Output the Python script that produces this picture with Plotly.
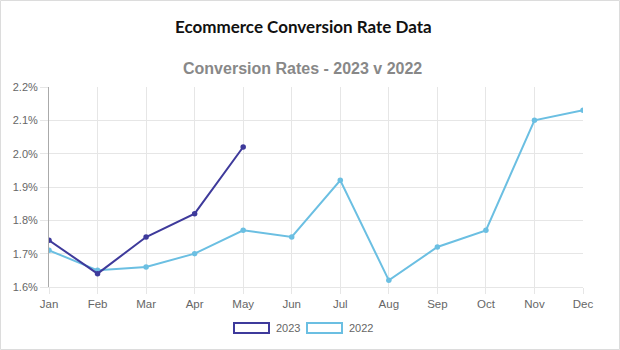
import plotly.graph_objects as go

months = ["Jan", "Feb", "Mar", "Apr", "May", "Jun", "Jul", "Aug", "Sep", "Oct", "Nov", "Dec"]
rates_2023 = [1.74, 1.64, 1.75, 1.82, 2.02]
rates_2022 = [1.71, 1.65, 1.66, 1.70, 1.77, 1.75, 1.92, 1.62, 1.72, 1.77, 2.10, 2.13]
y_ticks = [1.6, 1.7, 1.8, 1.9, 2.0, 2.1, 2.2]
y_tick_labels = ["1.6%", "1.7%", "1.8%", "1.9%", "2.0%", "2.1%", "2.2%"]

C23 = "#3e3a9b"
C22 = "#6bbfe2"

W, H = 620, 350
L, R, T, B = 49, 37, 87, 63
pw, ph = W - L - R, H - T - B

def px(x):
    return (x - L) / pw

def py(y):
    return (H - B - y) / ph

fig = go.Figure()
fig.add_trace(go.Scatter(x=months, y=rates_2022, mode="lines+markers", name="2022",
                         line=dict(color=C22, width=2), marker=dict(size=5.5, color=C22)))
fig.add_trace(go.Scatter(x=months[:len(rates_2023)], y=rates_2023, mode="lines+markers", name="2023",
                         line=dict(color=C23, width=2), marker=dict(size=5.5, color=C23)))

fig.update_layout(
    width=W, height=H,
    margin=dict(l=L, r=R, t=T, b=B),
    paper_bgcolor="white", plot_bgcolor="white",
    showlegend=False,
    font=dict(family="Liberation Sans, Arial", color="#666"),
)
fig.update_xaxes(
    categoryorder="array", categoryarray=months, range=[0, 11],
    showgrid=True, gridcolor="#e6e6e6", gridwidth=1,
    ticks="outside", ticklen=6, tickcolor="#e6e6e6",
    showline=True, linecolor="#e6e6e6", linewidth=1,
    tickfont=dict(size=11.5, color="#666"), zeroline=False,
)
fig.update_yaxes(
    range=[1.6, 2.2], tickvals=y_ticks, ticktext=y_tick_labels,
    showgrid=True, gridcolor="#e6e6e6", gridwidth=1,
    ticks="outside", ticklen=8, tickcolor="#e6e6e6",
    showline=True, linecolor="#aaaaaa", linewidth=1,
    tickfont=dict(size=11, color="#666"), zeroline=False,
)

shapes = [
    dict(type="rect", xref="paper", yref="paper", x0=px(0.5), x1=px(W - 0.5), y0=py(H - 0.5), y1=py(0.5),
         line=dict(color="#dcdcdc", width=1), fillcolor="rgba(0,0,0,0)", layer="below"),
    dict(type="rect", xref="paper", yref="paper", x0=px(234), x1=px(269), y0=py(333), y1=py(323),
         line=dict(color=C23, width=2), fillcolor="rgba(0,0,0,0)"),
    dict(type="rect", xref="paper", yref="paper", x0=px(307), x1=px(342), y0=py(333), y1=py(323),
         line=dict(color=C22, width=2), fillcolor="rgba(0,0,0,0)"),
]
annotations = [
    dict(text="<b>Ecommerce Conversion Rate Data</b>", xref="paper", yref="paper", x=px(303), y=py(27),
         showarrow=False, xanchor="center", yanchor="middle",
         font=dict(family="Lato", size=17, color="#111")),
    dict(text="<b>Conversion Rates - 2023 v 2022</b>", xref="paper", yref="paper", x=px(302), y=py(69),
         showarrow=False, xanchor="center", yanchor="middle",
         font=dict(family="Liberation Sans, Arial", size=16, color="#888")),
    dict(text="2023", xref="paper", yref="paper", x=px(274), y=py(328), showarrow=False,
         xanchor="left", yanchor="middle", font=dict(size=11, color="#666")),
    dict(text="2022", xref="paper", yref="paper", x=px(347), y=py(328), showarrow=False,
         xanchor="left", yanchor="middle", font=dict(size=11, color="#666")),
]
fig.update_layout(shapes=shapes, annotations=annotations)

fig.write_html("out.html")
